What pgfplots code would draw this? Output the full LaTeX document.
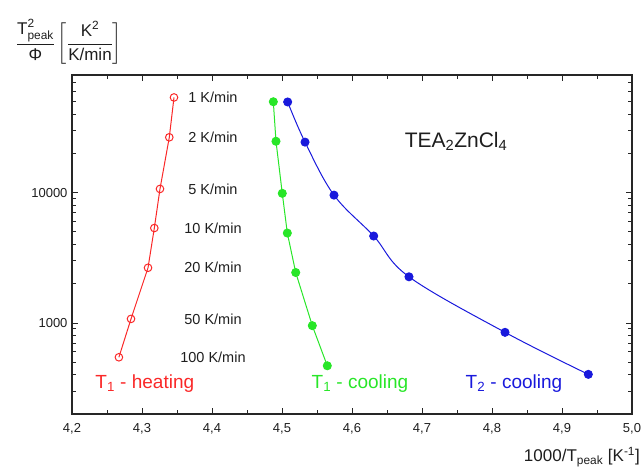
\documentclass[border=0pt]{standalone}
\usepackage{pgfplots}
\pgfplotsset{compat=1.18}
\usepackage{amsmath}
\usepackage{fontspec}
\setmainfont{Liberation Sans}
\definecolor{cred}{RGB}{250,40,40}
\definecolor{cgreen}{RGB}{40,230,40}
\definecolor{cblue}{RGB}{25,25,220}
\definecolor{ctext}{RGB}{30,30,30}
\begin{document}
\begin{tikzpicture}
\useasboundingbox (-72pt,-58pt) rectangle (570pt,414pt);
\begin{axis}[
  at={(0,0)}, anchor=south west,
  scale only axis, width=560pt, height=339pt,
  xmin=4.2, xmax=5.0,
  ymode=log, ymin=200, ymax=80000,
  xtick={4.2,4.3,4.4,4.5,4.6,4.7,4.8,4.9,5.0},
  xticklabels={{4,2},{4,3},{4,4},{4,5},{4,6},{4,7},{4,8},{4,9},{5,0}},
  minor xtick={4.25,4.35,4.45,4.55,4.65,4.75,4.85,4.95},
  ytick={1000,10000},
  yticklabels={1000,10000},
  minor ytick={200,300,400,500,600,700,800,900,2000,3000,4000,5000,6000,7000,8000,9000,20000,30000,40000,50000,60000,70000,80000},
  tick align=inside,
  major tick length=6pt, minor tick length=4pt,
  every tick/.style={black!85, line width=0.8pt},
  axis line style={black!85, line width=1.3pt},
  tick label style={font=\fontsize{13}{15}\selectfont, text=ctext},
  xticklabel style={yshift=-6pt},
  yticklabel style={xshift=-1pt},
  /pgf/number format/assume math mode=true,
  clip=false,
]
\addplot[cred, line width=1pt, mark=o, mark size=3.8pt, mark options={solid, fill=white, line width=1pt}]
coordinates {(4.3457,53800) (4.3390,26600) (4.3257,10680) (4.3176,5350) (4.3086,2650) (4.2843,1074) (4.2670,545)};
\addplot[cgreen, line width=1pt, mark=*, mark size=4pt, mark options={solid}]
coordinates {(4.4876,49860) (4.4914,24800) (4.5004,9880) (4.5076,4898) (4.5196,2438) (4.5433,953) (4.5647,469)};
\addplot[cblue, line width=1pt, smooth, tension=0.6, mark=*, mark size=4pt, mark options={solid}]
coordinates {(4.5081,49660) (4.5329,24430) (4.5743,9570) (4.6310,4645) (4.6814,2260) (4.8186,847) (4.9376,403)};
\begin{scope}[every node/.style={font=\fontsize{14.5}{16}\selectfont, text=ctext}]
\node at (axis cs:4.4014,53800) {1 K/min};
\node at (axis cs:4.4014,26600) {2 K/min};
\node at (axis cs:4.4014,10680) {5 K/min};
\node at (axis cs:4.4014,5350) {10 K/min};
\node at (axis cs:4.4014,2650) {20 K/min};
\node at (axis cs:4.4014,1074) {50 K/min};
\node at (axis cs:4.4014,545) {100 K/min};
\end{scope}
\node[font=\fontsize{21}{24}\selectfont, text=ctext] at (axis cs:4.7486,24800) {TEA\textsubscript{2}ZnCl\textsubscript{4}};
\node[font=\fontsize{19}{22}\selectfont, text=cred] at (axis cs:4.304,345) {T\textsubscript{1} - heating};
\node[font=\fontsize{19}{22}\selectfont, text=cgreen] at (axis cs:4.6114,345) {T\textsubscript{1} - cooling};
\node[font=\fontsize{19}{22}\selectfont, text=cblue] at (axis cs:4.8314,345) {T\textsubscript{2} - cooling};
\end{axis}
\node[anchor=east, inner sep=0pt, font=\fontsize{17}{20}\selectfont, text=ctext] at (568pt,-43pt) {1000/T\textsubscript{peak} [K\textsuperscript{-1}]};
\node[inner sep=0pt, font=\fontsize{17}{21}\selectfont, text=ctext] at (-3pt,372pt) {$\dfrac{\text{T}^{\text{2}}_{\text{peak}}}{\text{Φ}}\left[\dfrac{\text{K}^{\text{2}}}{\text{K/min}}\right]$};
\end{tikzpicture}
\end{document}
